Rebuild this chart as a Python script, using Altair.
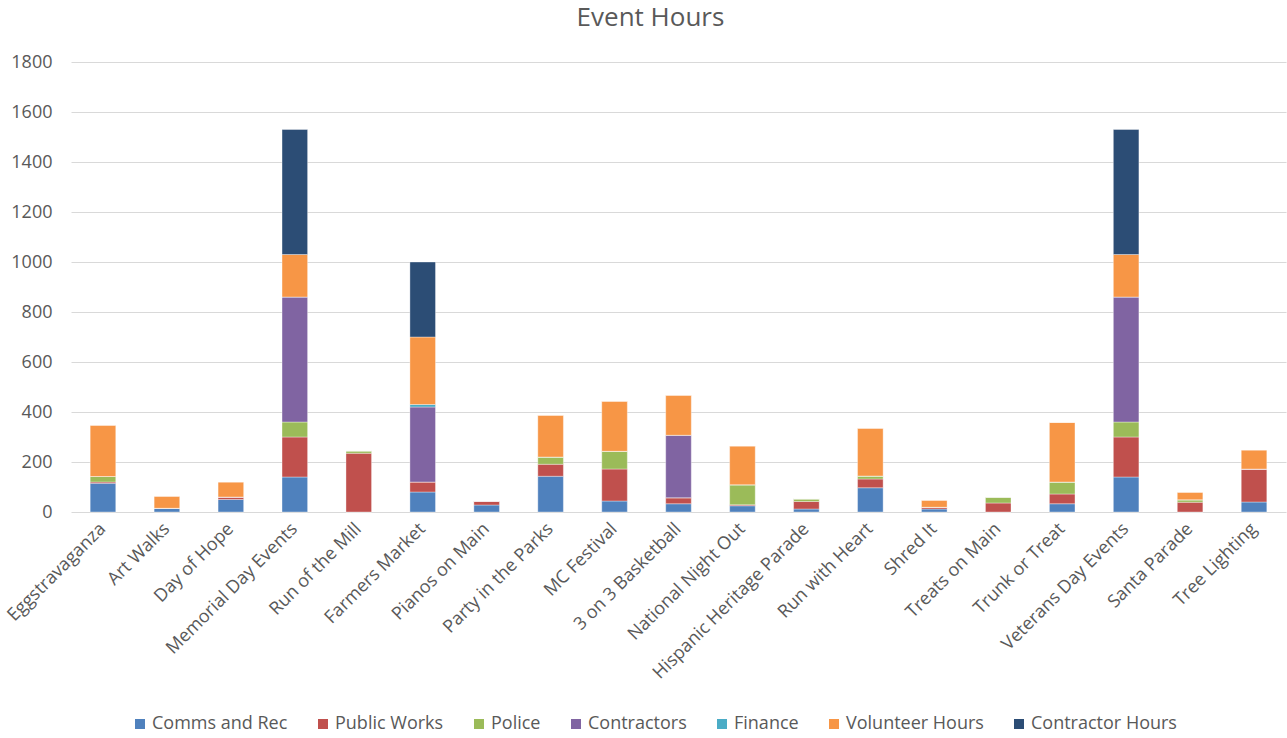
import altair as alt
import pandas as pd

events = ["Eggstravaganza", "Art Walks", "Day of Hope", "Memorial Day Events", "Run of the Mill",
          "Farmers Market", "Pianos on Main", "Party in the Parks", "MC Festival", "3 on 3 Basketball",
          "National Night Out", "Hispanic Heritage Parade", "Run with Heart", "Shred It",
          "Treats on Main", "Trunk or Treat", "Veterans Day Events", "Santa Parade", "Tree Lighting"]

comms_and_rec    = [115, 15, 50, 140, 0, 80, 28, 143, 44, 33, 25, 12, 97, 12, 0, 33, 140, 0, 40]
public_works     = [5, 0, 10, 160, 235, 40, 16, 48, 128, 24, 4, 30, 35, 7, 36, 39, 160, 39, 132]
police           = [22, 0, 0, 60, 10, 0, 0, 29, 71, 0, 80, 11, 12, 0, 24, 48, 60, 10, 0]
contractors      = [0, 0, 0, 500, 0, 300, 0, 0, 0, 250, 0, 0, 0, 0, 0, 0, 500, 0, 0]
finance          = [0, 0, 0, 0, 0, 10, 0, 0, 0, 0, 0, 0, 0, 0, 0, 0, 0, 0, 0]
volunteer_hours  = [205, 48, 60, 170, 0, 270, 0, 167, 200, 160, 155, 0, 191, 28, 0, 238, 170, 30, 76]
contractor_hours = [0, 0, 0, 500, 0, 300, 0, 0, 0, 0, 0, 0, 0, 0, 0, 0, 500, 0, 0]

series_names = ["Comms and Rec", "Public Works", "Police", "Contractors", "Finance",
                "Volunteer Hours", "Contractor Hours"]
series_values = [comms_and_rec, public_works, police, contractors, finance,
                 volunteer_hours, contractor_hours]
series_colors = ["#4F81BD", "#C0504D", "#9BBB59", "#8064A2", "#4BACC6", "#F79646", "#2C4D75"]

rows = []
for si, (name, vals) in enumerate(zip(series_names, series_values)):
    for ev, v in zip(events, vals):
        rows.append({"Event": ev, "Series": name, "Hours": v, "order": si})
df = pd.DataFrame(rows)

FONT = "Open Sans"
TXT = "#595959"

chart = alt.Chart(df).mark_bar(stroke="white", strokeWidth=0.6, strokeOpacity=0.6).encode(
    x=alt.X("Event:N", sort=events,
            scale=alt.Scale(paddingInner=0.6, paddingOuter=0.3),
            axis=alt.Axis(title=None, labelAngle=-45, labelFontSize=18, labelColor=TXT,
                          labelFont=FONT, ticks=False, domain=False, labelPadding=14,
                          labelAlign="right", labelBaseline="middle", labelLimit=400)),
    y=alt.Y("Hours:Q", stack="zero",
            scale=alt.Scale(domain=[0, 1800], nice=False),
            axis=alt.Axis(title=None, values=list(range(0, 1801, 200)), format="d",
                          labelFontSize=18, labelColor=TXT, labelFont=FONT, ticks=False,
                          domain=False, gridColor="#D9D9D9", gridWidth=1, labelPadding=19)),
    color=alt.Color("Series:N", sort=series_names,
                    scale=alt.Scale(domain=series_names, range=series_colors),
                    legend=alt.Legend(title=None, orient="none", direction="horizontal",
                                      columns=7, legendX=60, legendY=653,
                                      symbolType="square", symbolSize=100,
                                      symbolStrokeWidth=0, labelFontSize=18,
                                      labelColor=TXT, labelFont=FONT, columnPadding=26,
                                      labelOffset=3, labelLimit=300)),
    order=alt.Order("order:Q", sort="ascending"),
    tooltip=["Event", "Series", "Hours"],
).properties(
    width=1215, height=450,
    title=alt.TitleParams("Event Hours", fontSize=26, font=FONT, color=TXT,
                          fontWeight="normal", anchor="middle", dx=-28, offset=22),
    autosize=alt.AutoSizeParams(type="none"),
    padding={"left": 71, "top": 62, "right": 1, "bottom": 226},
).configure_view(stroke=None)

chart.save("out.html", embed_options={"renderer": "svg", "actions": False})
